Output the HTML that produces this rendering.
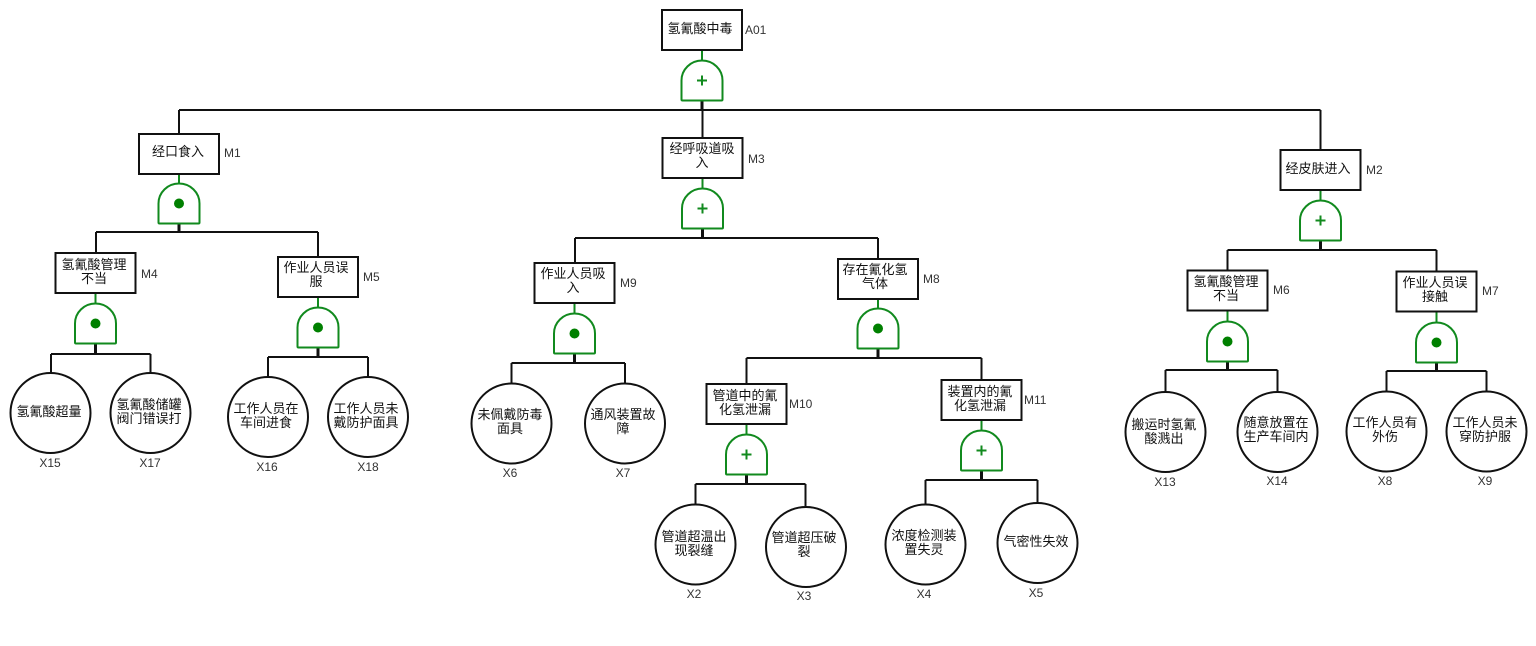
<!DOCTYPE html>
<html lang="zh">
<head>
<meta charset="utf-8">
<title>氢氰酸中毒 故障树</title>
<style>
html,body{margin:0;padding:0;background:#fff;width:1536px;height:646px;overflow:hidden}
svg{display:block}
.l{stroke:#111;stroke-width:2;fill:none}
.k{stroke:#111;stroke-width:3;fill:none}
.b{stroke:#111;stroke-width:2;fill:#fff}
.g{stroke:#118a1e;stroke-width:2;fill:none}
.gf{stroke:#118a1e;stroke-width:2;fill:#fff;stroke-linejoin:round}
text{font-family:"Liberation Sans","WenQuanYi Zen Hei","Noto Sans CJK SC",sans-serif;font-size:13px;fill:#111;text-anchor:middle}
text.t{font-family:"Liberation Sans",sans-serif;font-size:12px;fill:#333}
text.s{text-anchor:start}
</style>
</head>
<body>
<svg width="1536" height="646" viewBox="0 0 1536 646" xmlns="http://www.w3.org/2000/svg">
<defs>
<g id="gate"><path class="gf" d="M-20.5 39V20A20.5 20 0 0 1 20.5 20V39Q20.5 40 19.5 40H-19.5Q-20.5 40 -20.5 39Z"/></g>
<g id="or"><use href="#gate"/><path d="M-5 20H5M0 15V25" stroke="#118a1e" stroke-width="2" fill="none"/></g>
<g id="and"><use href="#gate"/><circle cx="0" cy="20" r="5" fill="#008000"/></g>
</defs>

<!-- connectors -->
<path class="l" d="M179 110H1320.5M179 110V134M702.5 110V138M1320.5 110V150"/>
<path class="l" d="M96 232H318M96 232V253M318 232V257"/>
<path class="l" d="M51 354H150.5M51 354V373M150.5 354V373"/>
<path class="l" d="M268 357H368M268 357V377M368 357V377"/>
<path class="l" d="M575 238H878M575 238V263M878 238V259"/>
<path class="l" d="M511.5 363H625M511.5 363V383M625 363V383"/>
<path class="l" d="M746.5 358H981.5M746.5 358V384M981.5 358V380"/>
<path class="l" d="M695.5 484H805.5M695.5 484V504M805.5 484V506"/>
<path class="l" d="M925.5 480H1037.5M925.5 480V504M1037.5 480V503"/>
<path class="l" d="M1227.5 250H1436.5M1227.5 250V270M1436.5 250V271"/>
<path class="l" d="M1165.5 370H1277.5M1165.5 370V392M1277.5 370V392"/>
<path class="l" d="M1386.5 371H1486.5M1386.5 371V391M1486.5 371V391"/>
<!-- heavier stubs under the gates -->
<path class="k" d="M702 100V110M179 224V232M95.5 344V354M318 348V357M702.5 229V238M574.5 354V363M878 349V358M746.5 475V484M981.5 471V480M1320.5 241V250M1227.5 362V370M1436.5 363V371"/>

<!-- green stems -->
<path class="g" d="M702 50V60M179 174V183M95.5 293V303M318 297V307M702.5 178V188M574.5 303V313M878 299V309M746.5 424V434M981.5 420V430M1320.5 190V200M1227.5 311V321M1436.5 312V322"/>

<!-- gates -->
<use href="#or" x="702" y="60.5"/>
<use href="#and" x="179" y="183.5"/>
<use href="#and" x="95.5" y="303.5"/>
<use href="#and" x="318" y="307.5"/>
<use href="#or" x="702.5" y="188.5"/>
<use href="#and" x="574.5" y="313.5"/>
<use href="#and" x="878" y="308.5"/>
<use href="#or" x="746.5" y="434.5"/>
<use href="#or" x="981.5" y="430.5"/>
<use href="#or" x="1320.5" y="200.5"/>
<use href="#and" x="1227.5" y="321.5"/>
<use href="#and" x="1436.5" y="322.5"/>

<!-- boxes -->
<rect class="b" x="662" y="10" width="80" height="40"/>
<rect class="b" x="139" y="134" width="80" height="40"/>
<rect class="b" x="662.5" y="138" width="80" height="40"/>
<rect class="b" x="1280.5" y="150" width="80" height="40"/>
<rect class="b" x="55.5" y="253" width="80" height="40"/>
<rect class="b" x="278" y="257" width="80" height="40"/>
<rect class="b" x="534.5" y="263" width="80" height="40"/>
<rect class="b" x="838" y="259" width="80" height="40"/>
<rect class="b" x="706.5" y="384" width="80" height="40"/>
<rect class="b" x="941.5" y="380" width="80" height="40"/>
<rect class="b" x="1187.5" y="270.5" width="80" height="40"/>
<rect class="b" x="1396.5" y="271.5" width="80" height="40"/>

<!-- circles -->
<circle class="b" cx="50.5" cy="413" r="40"/>
<circle class="b" cx="150.5" cy="413" r="40"/>
<circle class="b" cx="268" cy="417" r="40"/>
<circle class="b" cx="368" cy="417" r="40"/>
<circle class="b" cx="511.5" cy="423.5" r="40"/>
<circle class="b" cx="625" cy="423.5" r="40"/>
<circle class="b" cx="695.5" cy="544.5" r="40"/>
<circle class="b" cx="806" cy="547" r="40"/>
<circle class="b" cx="925.5" cy="544.5" r="40"/>
<circle class="b" cx="1037.5" cy="543" r="40"/>
<circle class="b" cx="1165.5" cy="432" r="40"/>
<circle class="b" cx="1277.5" cy="432" r="40"/>
<circle class="b" cx="1386.5" cy="431.5" r="40"/>
<circle class="b" cx="1486.5" cy="431.5" r="40"/>

<!-- box text -->
<text x="700" y="33">氢氰酸中毒</text>
<text x="178" y="156">经口食入</text>
<text x="702" y="153">经呼吸道吸</text><text x="702" y="167">入</text>
<text x="1318" y="173">经皮肤进入</text>
<text x="94" y="269">氢氰酸管理</text><text x="94" y="283">不当</text>
<text x="316" y="272">作业人员误</text><text x="316" y="286">服</text>
<text x="573" y="278">作业人员吸</text><text x="573" y="292">入</text>
<text x="875" y="274">存在氰化氢</text><text x="875" y="288">气体</text>
<text x="745" y="400">管道中的氰</text><text x="745" y="414">化氢泄漏</text>
<text x="980" y="396">装置内的氰</text><text x="980" y="410">化氢泄漏</text>
<text x="1226" y="286">氢氰酸管理</text><text x="1226" y="300">不当</text>
<text x="1435" y="287">作业人员误</text><text x="1435" y="301">接触</text>

<!-- circle text -->
<text x="49" y="416">氢氰酸超量</text>
<text x="149" y="409">氢氰酸储罐</text><text x="149" y="423">阀门错误打</text>
<text x="266" y="413">工作人员在</text><text x="266" y="427">车间进食</text>
<text x="366" y="413">工作人员未</text><text x="366" y="427">戴防护面具</text>
<text x="510" y="419">未佩戴防毒</text><text x="510" y="433">面具</text>
<text x="623" y="419">通风装置故</text><text x="623" y="433">障</text>
<text x="694" y="541">管道超温出</text><text x="694" y="555">现裂缝</text>
<text x="804" y="542">管道超压破</text><text x="804" y="556">裂</text>
<text x="924" y="540">浓度检测装</text><text x="924" y="554">置失灵</text>
<text x="1036" y="546">气密性失效</text>
<text x="1164" y="429">搬运时氢氰</text><text x="1164" y="443">酸溅出</text>
<text x="1276" y="427">随意放置在</text><text x="1276" y="441">生产车间内</text>
<text x="1385" y="427">工作人员有</text><text x="1385" y="441">外伤</text>
<text x="1485" y="427">工作人员未</text><text x="1485" y="441">穿防护服</text>

<!-- ids -->
<text class="t s" x="745" y="34">A01</text>
<text class="t s" x="224" y="157">M1</text>
<text class="t s" x="748" y="163">M3</text>
<text class="t s" x="1366" y="174">M2</text>
<text class="t s" x="141" y="278">M4</text>
<text class="t s" x="363" y="281">M5</text>
<text class="t s" x="620" y="287">M9</text>
<text class="t s" x="923" y="283">M8</text>
<text class="t s" x="789" y="408">M10</text>
<text class="t s" x="1024" y="404">M11</text>
<text class="t s" x="1273" y="294">M6</text>
<text class="t s" x="1482" y="295">M7</text>
<text class="t" x="50" y="467">X15</text>
<text class="t" x="150" y="467">X17</text>
<text class="t" x="267" y="471">X16</text>
<text class="t" x="368" y="471">X18</text>
<text class="t" x="510" y="477">X6</text>
<text class="t" x="623" y="477">X7</text>
<text class="t" x="694" y="598">X2</text>
<text class="t" x="804" y="600">X3</text>
<text class="t" x="924" y="598">X4</text>
<text class="t" x="1036" y="597">X5</text>
<text class="t" x="1165" y="486">X13</text>
<text class="t" x="1277" y="485">X14</text>
<text class="t" x="1385" y="485">X8</text>
<text class="t" x="1485" y="485">X9</text>
</svg>
</body>
</html>
